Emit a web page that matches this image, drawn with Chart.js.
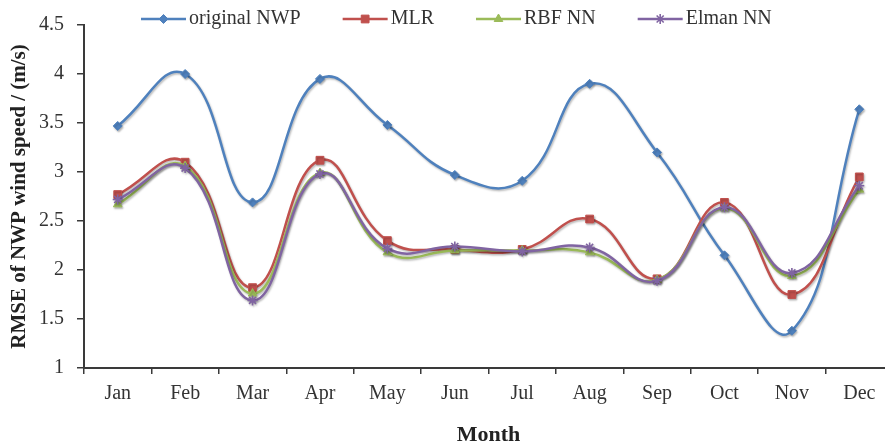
<!DOCTYPE html>
<html>
<head>
<meta charset="utf-8">
<title>RMSE of NWP wind speed by month</title>
<script src="https://cdn.jsdelivr.net/npm/chart.js@4/dist/chart.umd.min.js"></script>
<style>
  html, body { margin: 0; padding: 0; background: #fff; overflow: hidden; }
  #wrap { width: 885px; height: 446px; overflow: hidden; }
  canvas { display: block; }
</style>
</head>
<body>
<div id="wrap"><canvas id="c" width="900" height="446"></canvas></div>
<script>
// Monthly RMSE of wind speed (m/s)
const months = ['Jan', 'Feb', 'Mar', 'Apr', 'May', 'Jun', 'Jul', 'Aug', 'Sep', 'Oct', 'Nov', 'Dec'];
const originalNWP = [3.47, 4.00, 2.69, 3.95, 3.48, 2.97, 2.91, 3.90, 3.20, 2.15, 1.38, 3.64];
const mlr         = [2.77, 3.10, 1.82, 3.12, 2.30, 2.21, 2.21, 2.52, 1.91, 2.69, 1.75, 2.95];
const rbfNN       = [2.67, 3.06, 1.76, 2.99, 2.18, 2.20, 2.20, 2.18, 1.90, 2.63, 1.94, 2.82];
const elmanNN     = [2.72, 3.04, 1.69, 2.98, 2.22, 2.24, 2.19, 2.23, 1.89, 2.64, 1.97, 2.86];
const yTickValues = [1, 1.5, 2, 2.5, 3, 3.5, 4, 4.5];
const yTickLabels = ['1', '1.5', '2', '2.5', '3', '3.5', '4', '4.5'];
const seriesNames = ['original NWP', 'MLR', 'RBF NN', 'Elman NN'];

const serif = "'Liberation Serif', 'Times New Roman', serif";
const axisColor = '#3a3a3a';
const textColor = '#333333';

const styles = [
  { color: '#4F81BD', point: 'rectRot', radius: 4.5 },
  { color: '#C0504D', point: 'rect', radius: 5.5 },
  { color: '#9BBB59', point: 'triangle', radius: 5 },
  { color: '#8064A2', point: 'star', radius: 5 }
];
const seriesData = [originalNWP, mlr, rbfNN, elmanNN];

const datasets = seriesData.map((values, i) => ({
  label: seriesNames[i],
  data: values,
  borderColor: styles[i].color,
  backgroundColor: styles[i].color,
  pointBackgroundColor: styles[i].color,
  pointBorderColor: styles[i].color,
  pointStyle: styles[i].point,
  pointRadius: styles[i].radius,
  pointBorderWidth: i === 3 ? 1.6 : 1,
  borderWidth: 2.5,
  tension: 0.45,
  fill: false,
  order: seriesData.length - i
}));

// Soft drop shadow under each series line
const lineShadow = {
  id: 'lineShadow',
  beforeDatasetDraw(chart) {
    const ctx = chart.ctx;
    ctx.save();
    ctx.shadowColor = 'rgba(0,0,0,0.28)';
    ctx.shadowBlur = 2;
    ctx.shadowOffsetX = 1;
    ctx.shadowOffsetY = 1.5;
  },
  afterDatasetDraw(chart) {
    chart.ctx.restore();
  }
};

// Legend row: line segment with marker, then the series name
const lineLegend = {
  id: 'lineLegend',
  afterDraw(chart) {
    const ctx = chart.ctx;
    const y = 19;
    const lineLen = 45;
    let x = 141;
    ctx.save();
    ctx.font = '20px ' + serif;
    ctx.textBaseline = 'middle';
    ctx.textAlign = 'left';
    chart.data.datasets.forEach((ds) => {
      ctx.strokeStyle = ds.borderColor;
      ctx.lineWidth = 2.5;
      ctx.beginPath();
      ctx.moveTo(x, y);
      ctx.lineTo(x + lineLen, y);
      ctx.stroke();
      ctx.fillStyle = ds.pointBackgroundColor;
      ctx.strokeStyle = ds.pointBorderColor;
      ctx.lineWidth = ds.pointBorderWidth;
      Chart.helpers.drawPoint(ctx, {
        pointStyle: ds.pointStyle,
        radius: ds.pointRadius,
        rotation: 0,
        borderWidth: ds.pointBorderWidth
      }, x + lineLen / 2, y);
      ctx.fillStyle = textColor;
      ctx.fillText(ds.label, x + lineLen + 3, y);
      x += lineLen + 3 + ctx.measureText(ds.label).width + 42;
    });
    ctx.restore();
  }
};

new Chart(document.getElementById('c'), {
  type: 'line',
  data: { labels: months, datasets },
  options: {
    responsive: false,
    animation: false,
    devicePixelRatio: 1,
    layout: { padding: { top: 14, right: 7, left: 0, bottom: 0 } },
    plugins: {
      legend: { display: false },
      tooltip: { enabled: false }
    },
    scales: {
      x: {
        type: 'category',
        offset: true,
        grid: {
          offset: true,
          drawOnChartArea: false,
          drawTicks: true,
          tickLength: 6,
          color: axisColor,
          lineWidth: 1.5
        },
        border: { display: true, color: axisColor, width: 2 },
        ticks: {
          color: textColor,
          font: { family: serif, size: 20 },
          padding: 8,
          maxRotation: 0,
          autoSkip: false
        },
        title: {
          display: true,
          text: 'Month',
          color: '#222',
          font: { family: serif, size: 22, weight: 'bold', lineHeight: 1 },
          padding: { top: 0, bottom: 0 }
        },
        afterFit(scale) { scale.height = 78; }
      },
      y: {
        min: 1,
        max: 4.5,
        afterBuildTicks(scale) {
          scale.ticks = yTickValues.map(v => ({ value: v }));
        },
        grid: {
          drawOnChartArea: false,
          drawTicks: true,
          tickLength: 7,
          color: axisColor,
          lineWidth: 1.5
        },
        border: { display: true, color: axisColor, width: 2 },
        ticks: {
          color: textColor,
          font: { family: serif, size: 20 },
          padding: 13,
          callback: (value) => yTickLabels[yTickValues.indexOf(value)]
        },
        title: {
          display: true,
          text: 'RMSE of NWP wind speed / (m/s)',
          color: '#222',
          font: { family: serif, size: 21, weight: 'bold', lineHeight: 1 },
          padding: { top: 9, bottom: 0 }
        },
        afterFit(scale) { scale.width = 84; }
      }
    }
  },
  plugins: [lineShadow, lineLegend]
});
</script>
</body>
</html>
